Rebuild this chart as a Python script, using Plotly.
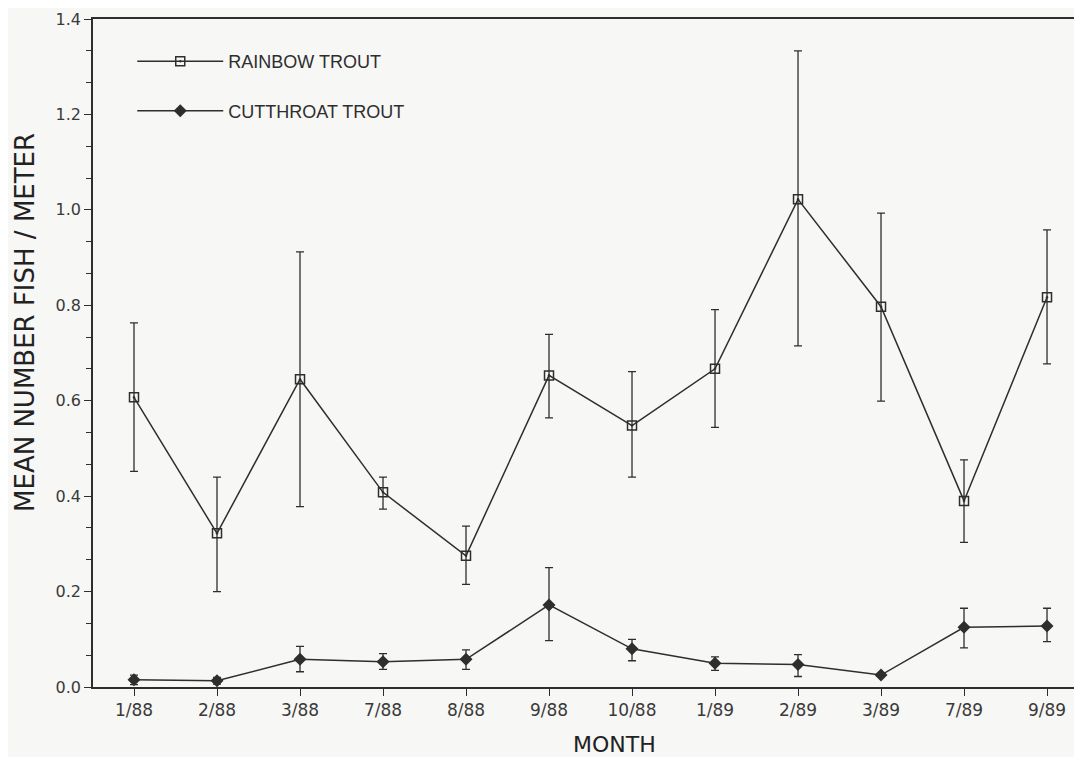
import plotly.graph_objects as go

months = ["1/88", "2/88", "3/88", "7/88", "8/88", "9/88", "10/88", "1/89", "2/89", "3/89", "7/89", "9/89"]

rainbow_mean = [0.607, 0.322, 0.645, 0.408, 0.275, 0.653, 0.548, 0.667, 1.022, 0.797, 0.390, 0.817]
rainbow_upper = [0.763, 0.440, 0.912, 0.440, 0.337, 0.739, 0.661, 0.791, 1.333, 0.993, 0.476, 0.958]
rainbow_lower = [0.452, 0.200, 0.378, 0.373, 0.215, 0.564, 0.440, 0.544, 0.715, 0.599, 0.303, 0.677]

cutthroat_mean = [0.015, 0.013, 0.058, 0.053, 0.058, 0.172, 0.080, 0.050, 0.047, 0.025, 0.125, 0.128]
cutthroat_upper = [0.025, 0.020, 0.085, 0.070, 0.078, 0.250, 0.100, 0.063, 0.068, 0.027, 0.165, 0.165]
cutthroat_lower = [0.005, 0.006, 0.032, 0.037, 0.037, 0.097, 0.055, 0.035, 0.022, 0.023, 0.082, 0.095]

ink = "#2e2e2e"
font_main = "Liberation Sans"

def errs(mean, up, lo):
    return [u - m for m, u in zip(mean, up)], [m - l for m, l in zip(mean, lo)]

r_plus, r_minus = errs(rainbow_mean, rainbow_upper, rainbow_lower)
c_plus, c_minus = errs(cutthroat_mean, cutthroat_upper, cutthroat_lower)

fig = go.Figure()
fig.add_trace(go.Scatter(
    x=months, y=rainbow_mean, name="RAINBOW TROUT", mode="lines+markers",
    legendgroup="r",
    line=dict(color=ink, width=1.5),
    marker=dict(symbol="square-open-dot", size=9, color=ink, line=dict(width=1.5, color=ink)),
    error_y=dict(type="data", symmetric=False, array=r_plus, arrayminus=r_minus,
                 color=ink, thickness=1.3, width=4),
))
fig.add_trace(go.Scatter(
    x=months, y=cutthroat_mean, name="CUTTHROAT TROUT", mode="lines+markers",
    legendgroup="c",
    line=dict(color=ink, width=1.5),
    marker=dict(symbol="diamond", size=10, color=ink),
    error_y=dict(type="data", symmetric=False, array=c_plus, arrayminus=c_minus,
                 color=ink, thickness=1.3, width=4),
))

fig.update_layout(
    width=1066, height=749,
    margin=dict(l=85, r=0, t=11, b=70),
    paper_bgcolor="#f7f7f5", plot_bgcolor="#f7f7f5",
    font=dict(family=font_main, color=ink),
    showlegend=True,
    legend=dict(
        x=0.040, y=0.964, xanchor="left", yanchor="top",
        bgcolor="rgba(0,0,0,0)", borderwidth=0,
        font=dict(size=18, family=font_main, color=ink),
        itemwidth=86, tracegroupgap=23,
    ),
    xaxis=dict(
        type="category", range=[-0.494, 11.325],
        showline=True, linecolor=ink, linewidth=1.5, mirror=True,
        ticks="outside", ticklen=7, tickcolor=ink, tickwidth=1.3,
        showgrid=False, zeroline=False,
        tickfont=dict(size=17, family="DejaVu Sans", color="#3a3a3a"),
    ),
    yaxis=dict(
        range=[0, 1.4], tickvals=[0, 0.2, 0.4, 0.6, 0.8, 1.0, 1.2, 1.4],
        ticktext=["0.0", "0.2", "0.4", "0.6", "0.8", "1.0", "1.2", "1.4"],
        showline=True, linecolor=ink, linewidth=1.5,
        ticks="outside", ticklen=7, tickcolor=ink, tickwidth=1.3,
        minor=dict(dtick=0.2 / 3, tick0=0, ticks="outside", ticklen=5, tickcolor=ink, tickwidth=1.2),
        showgrid=False, zeroline=False,
        tickfont=dict(size=16, family="DejaVu Sans", color="#3a3a3a"),
    ),
    annotations=[
        dict(text="MEAN NUMBER FISH / METER", xref="paper", yref="paper",
             x=-0.0693, y=0.545, xanchor="center", yanchor="middle", textangle=-90,
             showarrow=False, font=dict(size=26, family="DejaVu Sans", color="#222222")),
        dict(text="MONTH", xref="paper", yref="paper",
             x=0.532, y=-0.086, xanchor="center", yanchor="middle",
             showarrow=False, font=dict(size=22, family="DejaVu Sans", color="#222222")),
    ],
)

fig.write_html("out.html")
